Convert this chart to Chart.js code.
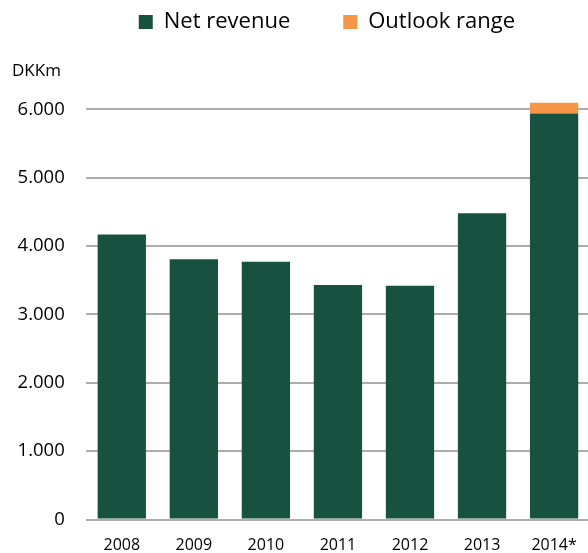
<!DOCTYPE html>
<html>
<head>
<meta charset="utf-8">
<script src="https://cdn.jsdelivr.net/npm/chart.js@4.4.1/dist/chart.umd.min.js"></script>
<style>
html,body{margin:0;padding:0;overflow:hidden;background:#fff}
#wrap{width:593px;height:553px}
</style>
</head>
<body>
<div id="wrap"><canvas id="c" width="593" height="553"></canvas></div>
<script>
const categories = ['2008', '2009', '2010', '2011', '2012', '2013', '2014*'];
const netRevenue = [4170, 3810, 3770, 3430, 3420, 4480, 5940];
const outlookRange = [null, null, null, null, null, null, 160];
const yTicks = [0, 1000, 2000, 3000, 4000, 5000, 6000];
const yUnit = 'DKKm';
const seriesNames = ['Net revenue', 'Outlook range'];

const FONT = 'Open Sans';
function fmt(v) {
  return String(v).replace(/\B(?=(\d{3})+(?!\d))/g, '.');
}

new Chart(document.getElementById('c'), {
  type: 'bar',
  data: {
    labels: categories,
    datasets: [
      { label: seriesNames[0], data: netRevenue, backgroundColor: '#17513F',
        barPercentage: 0.67, categoryPercentage: 1, borderWidth: 0 },
      { label: seriesNames[1], data: outlookRange, backgroundColor: '#F79646',
        barPercentage: 0.67, categoryPercentage: 1, borderWidth: 0 }
    ]
  },
  options: {
    responsive: false,
    animation: false,
    devicePixelRatio: 1,
    layout: { padding: { top: -42, left: 12, right: 0, bottom: 0 } },
    plugins: {
      legend: {
        position: 'top',
        fullSize: false,
        align: 'start',
        labels: {
          boxWidth: 14, boxHeight: 14, padding: 53,
          color: '#000',
          font: { family: FONT, size: 22 }
        }
      },
      title: {
        display: true,
        text: yUnit,
        align: 'start',
        weight: 500,
        color: '#000',
        font: { family: FONT, size: 17, weight: 'normal', lineHeight: 1.2 },
        padding: { top: 18, bottom: 14.4 }
      },
      tooltip: { enabled: false }
    },
    scales: {
      x: {
        stacked: true,
        grid: { display: false, drawTicks: false },
        border: { display: false },
        ticks: { color: '#000', font: { family: FONT, size: 16 }, padding: 16, maxRotation: 0 },
        afterFit(s) { s.height = 33.5; }
      },
      y: {
        stacked: true,
        min: 0,
        max: 6200,
        afterBuildTicks(s) { s.ticks = yTicks.map(v => ({ value: v })); },
        grid: { color: '#ADADAD', lineWidth: 2, drawTicks: false },
        border: { display: false },
        ticks: { color: '#000', font: { family: FONT, size: 18.5 }, padding: 21,
          callback: v => fmt(v) },
        afterFit(s) { s.width = 73.75; }
      }
    }
  }
});
</script>
</body>
</html>
